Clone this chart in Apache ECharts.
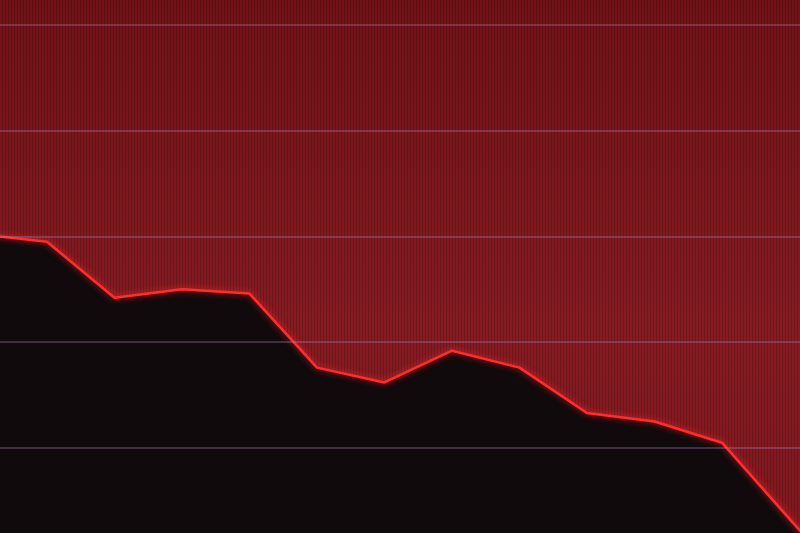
<!DOCTYPE html>
<html><head><meta charset="utf-8">
<script src="https://cdn.jsdelivr.net/npm/echarts@6/dist/echarts.min.js"></script>
<style>
html,body{margin:0;padding:0;width:800px;height:533px;overflow:hidden;}
body{background:
 repeating-linear-gradient(90deg, rgba(0,0,0,0) 0 2px, rgba(40,0,5,0.22) 2px 3px),
 linear-gradient(180deg,#6f1216 0%,#7a171c 30%,#841c22 60%,#80191f 100%);}
#c{width:800px;height:533px;}
</style></head>
<body><div id="c"></div>
<script>
// sample index and price values
const steps = [0,1,2,3,4,5,6,7,8,9,10,11,12,13];
const prices = [120.2,119.5,114.2,115.0,114.6,107.6,106.2,109.2,107.6,103.3,102.5,100.5,93.3,86.1];
const gridValues = [100,110,120,130,140];

const data = steps.map((s,i)=>[s,prices[i]]);
const chart = echarts.init(document.getElementById('c'), null, {renderer:'canvas'});
chart.setOption({
  backgroundColor:'transparent',
  animation:false,
  grid:{left:0,right:0,top:0,bottom:0,containLabel:false},
  xAxis:{type:'value',min:0.3037,max:12.156,
    axisLine:{show:false},axisTick:{show:false},axisLabel:{show:false},splitLine:{show:false}},
  yAxis:{type:'value',min:91.96,max:142.36,
    axisLine:{show:false},axisTick:{show:false},axisLabel:{show:false},splitLine:{show:false}},
  series:[{
    type:'line',data:data,symbol:'none',z:3,
    lineStyle:{color:'#ff2e2e',width:2.5,shadowColor:'rgba(255,40,40,0.85)',shadowBlur:6},
    areaStyle:{color:'#100a0c',opacity:1,origin:'start'},
    markLine:{silent:true,symbol:['none','none'],label:{show:false},animation:false,
      lineStyle:{color:'rgba(170,130,185,0.42)',width:1.5,type:'solid'},
      data:gridValues.map(v=>({yAxis:v}))}
  }]
});
</script></body></html>
